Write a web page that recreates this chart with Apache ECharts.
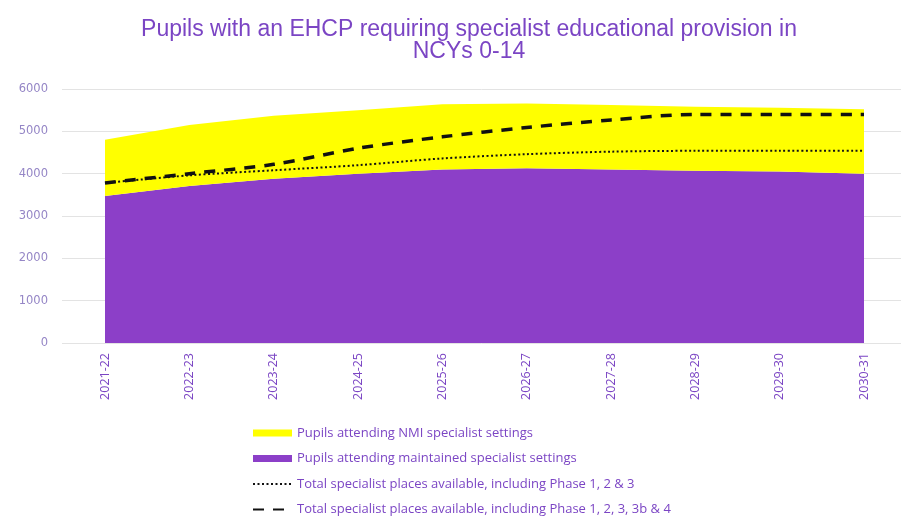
<!DOCTYPE html>
<html>
<head>
<meta charset="utf-8">
<script src="https://cdn.jsdelivr.net/npm/echarts@6/dist/echarts.min.js"></script>
<style>
html,body{margin:0;padding:0;background:#fff;}
#chart{width:901px;height:524px;}
</style>
</head>
<body>
<div id="chart"></div>
<script>
// Academic years on the category axis
const years = ['2021-22','2022-23','2023-24','2024-25','2025-26','2026-27','2027-28','2028-29','2029-30','2030-31'];
// Pupils in maintained specialist settings (bottom of the stack)
const maintained = [3470, 3710, 3880, 4000, 4100, 4130, 4100, 4070, 4050, 4000];
// Pupils in NMI specialist settings (stacked on top)
const nmi = [1330, 1440, 1490, 1500, 1540, 1530, 1520, 1510, 1510, 1520];
// Total specialist places: Phase 1, 2 & 3
const placesPhase123 = [3780, 3960, 4080, 4200, 4360, 4460, 4520, 4540, 4540, 4540];
// Total specialist places: Phase 1, 2, 3, 3b & 4
const placesPhase1234 = [3780, 4000, 4220, 4600, 4870, 5090, 5270, 5400, 5400, 5400];
const yTicks = [0, 1000, 2000, 3000, 4000, 5000, 6000];

const names = [
  'Pupils attending NMI specialist settings',
  'Pupils attending maintained specialist settings',
  'Total specialist places available, including Phase 1, 2 & 3',
  'Total specialist places available, including Phase 1, 2, 3, 3b & 4'
];

const purple = '#8c3fc8';
const textPurple = '#7b45c4';

const chart = echarts.init(document.getElementById('chart'), null, {renderer: 'canvas'});
chart.setOption({
  animation: false,
  backgroundColor: '#ffffff',
  title: {
    text: 'Pupils with an EHCP requiring specialist educational provision in\nNCYs 0-14',
    left: 469, textAlign: 'center', top: 19, padding: 0,
    textStyle: {fontFamily: 'Liberation Sans', fontSize: 23, fontWeight: 'normal', color: textPurple, lineHeight: 22}
  },
  legend: {
    orient: 'vertical', left: 252, top: 426, padding: 0, itemGap: 11.5,
    itemWidth: 39, itemHeight: 7,
    textStyle: {fontFamily: 'Open Sans', fontSize: 13, lineHeight: 14, color: textPurple},
    data: [
      {name: names[0], icon: 'rect'},
      {name: names[1], icon: 'rect'},
      {name: names[2], itemStyle: {opacity: 0}},
      {name: names[3], itemStyle: {opacity: 0}}
    ]
  },
  grid: [
    {left: 62, right: 0, top: 89, bottom: 181, containLabel: false},
    {left: 105, right: 37, top: 89, bottom: 181, containLabel: false}
  ],
  xAxis: [
    {gridIndex: 0, type: 'value', min: 0, max: 1, show: false},
    {
      gridIndex: 1, type: 'category', data: years, boundaryGap: false,
      axisLine: {show: false}, axisTick: {show: false},
      axisLabel: {rotate: 90, margin: 10, fontFamily: 'Open Sans', fontSize: 12.5, color: textPurple}
    }
  ],
  yAxis: [
    {
      gridIndex: 0, type: 'value', min: yTicks[0], max: yTicks[yTicks.length - 1], interval: 1000,
      axisLine: {show: false}, axisTick: {show: false},
      axisLabel: {margin: 14, fontFamily: 'DejaVu Sans', fontSize: 11.5, color: '#9586c6', formatter: v => String(v)},
      splitLine: {lineStyle: {color: '#e3e3e3', width: 1}}
    },
    {
      gridIndex: 1, type: 'value', min: yTicks[0], max: yTicks[yTicks.length - 1], interval: 1000,
      show: false, splitLine: {show: false}
    }
  ],
  series: [
    {
      name: names[1], type: 'line', xAxisIndex: 1, yAxisIndex: 1, stack: 'pupils',
      data: maintained, symbol: 'none', color: purple,
      lineStyle: {width: 0}, areaStyle: {color: purple, opacity: 1}, z: 1
    },
    {
      name: names[0], type: 'line', xAxisIndex: 1, yAxisIndex: 1, stack: 'pupils',
      data: nmi, symbol: 'none', color: '#ffff00',
      lineStyle: {width: 0}, areaStyle: {color: '#ffff00', opacity: 1}, z: 1
    },
    {
      name: names[2], type: 'line', xAxisIndex: 1, yAxisIndex: 1,
      data: placesPhase123, symbol: 'none', smooth: 0.3, color: '#111',
      lineStyle: {color: '#111', width: 2, type: [2, 2.5]}, z: 3
    },
    {
      name: names[3], type: 'line', xAxisIndex: 1, yAxisIndex: 1,
      data: placesPhase1234, symbol: 'none', smooth: 0.3, color: '#111',
      lineStyle: {color: '#111', width: 3.5, type: [11, 9]}, z: 4
    }
  ]
});
</script>
</body>
</html>
